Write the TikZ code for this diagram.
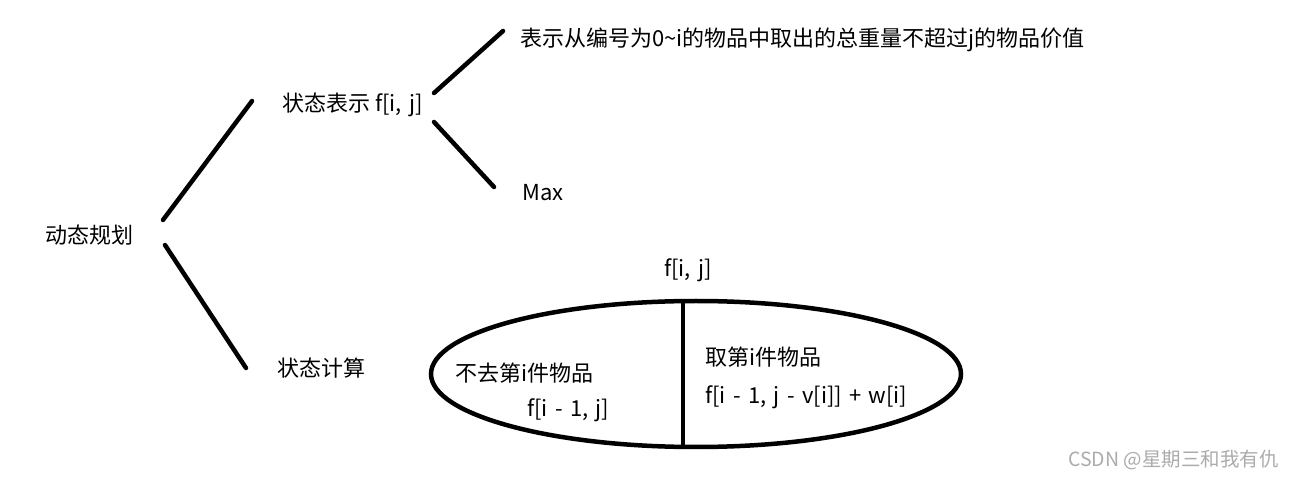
\documentclass[tikz,border=0pt]{standalone}
\usepackage{fontspec}
\setmainfont{Noto Sans CJK SC}
\usetikzlibrary{shapes.geometric}
\begin{document}
\begin{tikzpicture}[x=1pt,y=-1pt,
  lbl/.style={inner sep=0pt,anchor=west,font=\fontsize{22}{26}\selectfont},
  conn/.style={line width=4.5pt,line cap=round},
  wm/.style={inner sep=0pt,anchor=west,text=black!33,font=\fontsize{19.5}{23}\selectfont}]
\useasboundingbox (0,0) rectangle (1294,478);
% text nodes
\node[lbl] (dp) at (45,235) {动态规划};
\node[lbl] (ztbs) at (282,105) {状态表示 f[i,\,\,j]};
\node[lbl] (desc) at (520,40) {表示从编号为0\textasciitilde i的物品中取出的总重量不超过j的物品价值};
\node[lbl] (max) at (522,193) {Max};
\node[lbl] (ztjs) at (277,368) {状态计算};
\node[lbl,anchor=center] (fij) at (688,270) {f[i,\,\,j]};
\node[draw,line width=4.5pt,ellipse,minimum width=530pt,minimum height=146pt,inner sep=0pt] (ell) at (696,374) {};
\node[lbl] (nq) at (455,373) {不去第i件物品};
\node[lbl] (nqf) at (527,410) {f[i\,\,-\,\,1,\,\,j]};
\node[lbl] (q) at (705,357) {取第i件物品};
\node[lbl] (qf) at (705,397) {f[i\,\,-\,\,1,\,\,j\,\,-\,\,v[i]]\,\,+\,\,w[i]};
\node[wm] (wmk) at (1068,460) {CSDN @星期三和我有仇};
% connector end points
\coordinate (a1) at (163,220);
\coordinate (a2) at (252,101);
\coordinate (b1) at (165,245);
\coordinate (b2) at (246,368);
\coordinate (c1) at (434,93);
\coordinate (c2) at (503,31);
\coordinate (d1) at (434,122);
\coordinate (d2) at (494,187);
\draw[conn] (a1) -- (a2);
\draw[conn] (b1) -- (b2);
\draw[conn] (c1) -- (c2);
\draw[conn] (d1) -- (d2);
\draw[line width=4.5pt] (683,300) -- (683,448);
\end{tikzpicture}
\end{document}
